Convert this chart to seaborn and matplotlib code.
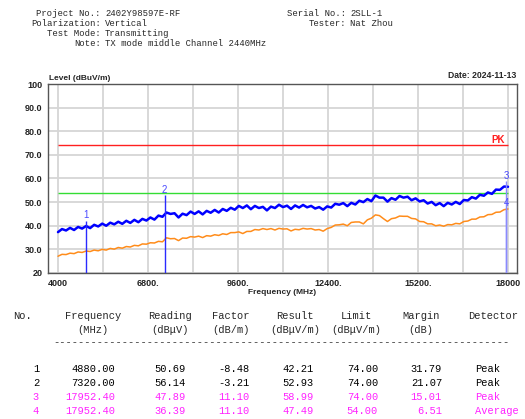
import matplotlib
matplotlib.use("Agg")
import matplotlib.pyplot as plt
import seaborn as sns
import pandas as pd

# sweep frequencies (MHz) and traces
freq = [4000, 4125, 4250, 4375, 4500, 4625, 4750, 4875, 5000, 5125,
        5250, 5375, 5500, 5625, 5750, 5875, 6000, 6125, 6250, 6375,
        6500, 6625, 6750, 6875, 7000, 7125, 7250, 7375, 7500, 7625,
        7750, 7875, 8000, 8125, 8250, 8375, 8500, 8625, 8750, 8875,
        9000, 9125, 9250, 9375, 9500, 9625, 9750, 9875, 10000, 10125,
        10250, 10375, 10500, 10625, 10750, 10875, 11000, 11125, 11250, 11375,
        11500, 11625, 11750, 11875, 12000, 12125, 12250, 12375, 12500, 12625,
        12750, 12875, 13000, 13125, 13250, 13375, 13500, 13625, 13750, 13875,
        14000, 14125, 14250, 14375, 14500, 14625, 14750, 14875, 15000, 15125,
        15250, 15375, 15500, 15625, 15750, 15875, 16000, 16125, 16250, 16375,
        16500, 16625, 16750, 16875, 17000, 17125, 17250, 17375, 17500, 17625,
        17750, 17875, 18000]
peak = [37.3, 38.6, 38.0, 39.1, 38.2, 39.5, 38.8, 39.9, 39.0, 40.4,
        39.7, 40.9, 40.0, 41.3, 40.6, 41.7, 40.8, 42.1, 41.2, 42.5,
        41.5, 42.9, 42.2, 43.5, 42.6, 44.3, 43.8, 45.6, 45.0, 45.3,
        43.5, 45.1, 44.5, 46.0, 45.0, 46.1, 44.8, 46.3, 45.5, 46.7,
        45.6, 47.1, 46.3, 47.6, 46.8, 48.4, 47.5, 48.6, 47.0, 48.4,
        47.5, 48.0, 46.5, 48.1, 47.5, 48.9, 47.9, 48.5, 47.1, 48.6,
        47.7, 48.8, 47.8, 48.4, 47.3, 47.9, 46.8, 48.2, 47.7, 49.3,
        48.9, 49.6, 48.3, 49.7, 49.0, 50.6, 50.0, 51.3, 50.4, 52.8,
        51.9, 51.9, 50.2, 51.7, 51.0, 52.6, 51.9, 52.3, 50.8, 51.6,
        50.3, 50.8, 49.4, 50.1, 48.7, 49.6, 48.3, 49.7, 49.0, 50.1,
        49.2, 50.9, 50.7, 52.1, 51.5, 53.1, 52.7, 54.1, 53.5, 55.3,
        55.2, 56.6, 56.5]
average = [27.1, 27.9, 27.8, 28.4, 28.2, 28.9, 28.7, 29.3, 29.1, 29.7,
           29.4, 30.0, 29.7, 30.4, 30.1, 30.8, 30.5, 31.2, 31.0, 31.7,
           31.5, 32.3, 32.2, 32.8, 32.7, 33.4, 33.2, 34.9, 34.5, 34.6,
           33.7, 34.8, 34.7, 35.4, 35.2, 35.6, 35.0, 35.8, 35.6, 36.2,
           35.9, 36.6, 36.3, 37.1, 37.1, 37.4, 36.7, 37.6, 37.6, 38.4,
           38.2, 38.8, 38.4, 38.8, 38.2, 38.9, 38.6, 38.7, 37.8, 38.5,
           38.3, 38.9, 38.6, 38.8, 38.2, 38.4, 37.7, 38.8, 39.3, 40.3,
           40.4, 40.7, 40.0, 41.4, 41.6, 41.6, 40.8, 42.5, 43.2, 44.6,
           44.3, 43.0, 41.8, 43.0, 43.3, 44.1, 44.0, 44.0, 43.1, 42.9,
           41.8, 41.7, 40.8, 40.8, 40.0, 40.3, 39.8, 40.5, 40.4, 41.0,
           40.8, 41.8, 42.0, 42.8, 42.8, 43.7, 43.8, 44.7, 44.8, 45.7,
           45.8, 46.8, 47.1]

limit_pk = 74.0
limit_av = 54.0

# marker table
mk_no = ["1", "2", "3", "4"]
mk_freq = [4880.00, 7320.00, 17952.40, 17952.40]
mk_reading = [50.69, 56.14, 47.89, 36.39]
mk_factor = [-8.48, -3.21, 11.10, 11.10]
mk_result = [42.21, 52.93, 58.99, 47.49]
mk_limit = [74.00, 74.00, 74.00, 54.00]
mk_margin = [31.79, 21.07, 15.01, 6.51]
mk_detector = ["Peak", "Peak", "Peak", "Average"]

x_ticks = [4000, 5400, 6800, 8200, 9600, 11000, 12400, 13800, 15200, 16600, 18000]
x_labels = ["4000", "", "6800.", "", "9600.", "", "12400.", "", "15200.", "", "18000"]
y_ticks = [20, 30, 40, 50, 60, 70, 80, 90, 100]
y_labels = ["20", "30.0", "40.0", "50.0", "60.0", "70.0", "80.0", "90.0", "100"]

sns.set_style("white")
plt.rcParams['font.family'] = ['Liberation Sans', 'DejaVu Sans']

W, H = 525, 419
fig = plt.figure(figsize=(W / 100, H / 100), dpi=100)
ax = fig.add_axes([48 / W, 1 - 273 / H, (517 - 48) / W, (273 - 84) / H])

df = pd.DataFrame({"freq": freq, "peak": peak, "average": average})

ax.hlines(limit_pk, freq[0], freq[-1], color="#ff2020", lw=1.0, zorder=2)
ax.hlines(limit_av, freq[0], freq[-1], color="#33dd33", lw=1.0, zorder=2)
sns.lineplot(data=df, x="freq", y="average", ax=ax, color="#ff8c1a", lw=1.1, zorder=3)
sns.lineplot(data=df, x="freq", y="peak", ax=ax, color="#0000ff", lw=1.8, zorder=4)

# marker lines
mk_colors = ["#2a2aff", "#2a2aff", "#8a8aff", "#8a8aff"]
for i in range(len(mk_no)):
    ax.vlines(mk_freq[i], 20, mk_result[i], color=mk_colors[i], lw=1.0, zorder=5)
    ax.text(mk_freq[i], mk_result[i] + 2.2, mk_no[i], color="#4a4aff",
            fontsize=7, ha="center", va="center", zorder=6)

ax.text(17900, 76.2, "PK", color="#ff2020", fontsize=7, fontweight="bold",
        ha="right", va="center")

ax.set_xlim(3689, 18280)
ax.set_ylim(20, 100)
ax.set_xticks(x_ticks)
ax.set_xticklabels(x_labels, fontsize=6.5, fontweight="bold")
ax.set_yticks(y_ticks)
ax.set_yticklabels(y_labels, fontsize=6.5, fontweight="bold")
ax.tick_params(axis="both", length=2, pad=2, colors="#222222", width=0.8)
ax.grid(True, color="#d6d6d6", lw=1.3)
ax.set_axisbelow(True)
for s in ax.spines.values():
    s.set_color("#555555")
    s.set_linewidth(1.0)
ax.set_xlabel("Frequency (MHz)", fontsize=6, fontweight="bold", labelpad=1)
ax.set_ylabel("")

fig.text(49 / W, 1 - 79 / H, "Level (dBuV/m)", fontsize=6, fontweight="bold",
         ha="left", va="center")
fig.text(516 / W, 1 - 75 / H, "Date: 2024-11-13", fontsize=6.2, fontweight="bold",
         ha="right", va="center")

# header
mono = ['Liberation Mono', 'DejaVu Sans Mono']
hdr_left = [("Project No.:", "2402Y98597E-RF", 14),
            ("Polarization:", "Vertical", 24),
            ("Test Mode:", "Transmitting", 33),
            ("Note:", "TX mode middle Channel 2440MHz", 43)]
for lab, val, y in hdr_left:
    fig.text(101 / W, 1 - y / H, lab, family=mono, fontsize=6.4, ha="right", va="center")
    fig.text(105 / W, 1 - y / H, val, family=mono, fontsize=6.4, ha="left", va="center")
hdr_right = [("Serial No.:", "2SLL-1", 14), ("Tester:", "Nat Zhou", 24)]
for lab, val, y in hdr_right:
    fig.text(346 / W, 1 - y / H, lab, family=mono, fontsize=6.4, ha="right", va="center")
    fig.text(350 / W, 1 - y / H, val, family=mono, fontsize=6.4, ha="left", va="center")

# table
cols1 = ["No.", "Frequency", "Reading", "Factor", "Result", "Limit", "Margin", "Detector"]
cols2 = ["", "(MHz)", "(dBμV)", "(dB/m)", "(dBμV/m)", "(dBμV/m)", "(dB)", ""]
col_x = [23, 93, 170, 231, 295, 356, 421, 493]
for c1, c2, x in zip(cols1, cols2, col_x):
    fig.text(x / W, 1 - 316 / H, c1, family=mono, fontsize=7.5, ha="center", va="center")
    if c2:
        fig.text(x / W, 1 - 330 / H, c2, family=mono, fontsize=7.5, ha="center", va="center")
fig.text(53 / W, 1 - 342 / H, "-" * 73, family=mono, fontsize=7.5, ha="left",
         va="center", color="#333333")

row_y = [369, 383, 397, 411]
row_colors = ["black", "black", "#ff22ff", "#ff22ff"]
num_x = [115, 186, 250, 314, 378, 442]
for i in range(len(mk_no)):
    y = 1 - row_y[i] / H
    c = row_colors[i]
    fig.text(36 / W, y, mk_no[i], family=mono, fontsize=7.5, ha="center", va="center", color=c)
    vals = [f"{mk_freq[i]:.2f}", f"{mk_reading[i]:.2f}", f"{mk_factor[i]:.2f}",
            f"{mk_result[i]:.2f}", f"{mk_limit[i]:.2f}", f"{mk_margin[i]:.2f}"]
    for v, x in zip(vals, num_x):
        fig.text(x / W, y, v, family=mono, fontsize=7.5, ha="right", va="center", color=c)
    fig.text(475 / W, y, mk_detector[i], family=mono, fontsize=7.5, ha="left", va="center", color=c)

fig.savefig("out.png", dpi=100)
